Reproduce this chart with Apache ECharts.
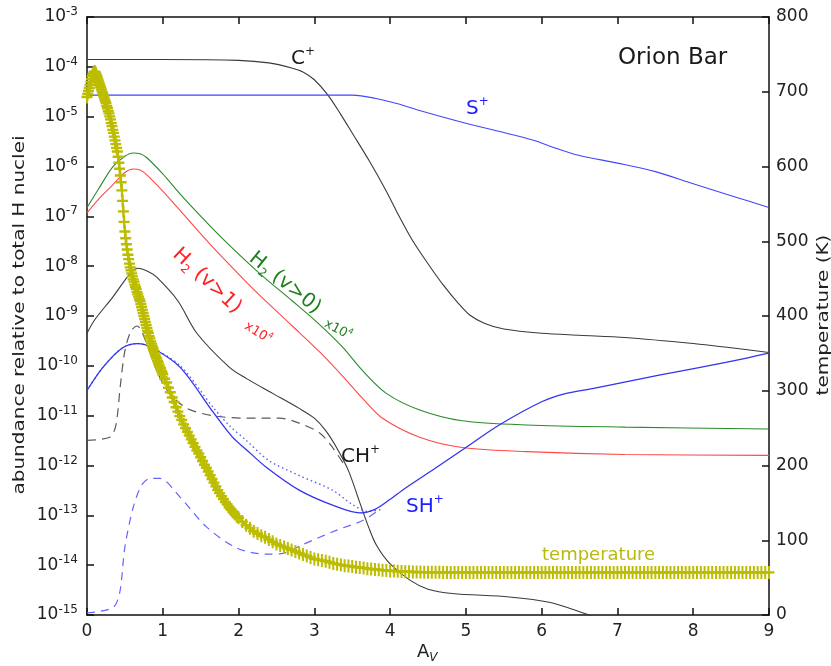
<!DOCTYPE html>
<html><head><meta charset="utf-8">
<script src="https://cdn.jsdelivr.net/npm/echarts/dist/echarts.min.js"></script>
<style>html,body{margin:0;padding:0;background:#fff}#c{width:831px;height:666px}</style>
</head><body><div id="c"></div>
<script>
// ---- data (A_V, abundance relative to total H) ----
const cPlusAv = [0, 1, 2, 2.4, 2.7, 2.85, 3.0, 3.18, 3.35, 3.5, 3.73, 3.95, 4.12, 4.3, 4.5, 4.7, 4.9, 5.05, 5.25, 5.5, 6.0, 6.5, 7.1, 8.0, 8.5, 9.0];
const cPlus = [1.4e-4, 1.4e-4, 1.35e-4, 1.2e-4, 9.5e-5, 7.9e-5, 5.5e-5, 2.7e-5, 1.1e-5, 4.7e-6, 1.26e-6, 3.2e-7, 1.0e-7, 3.2e-8, 1.12e-8, 4.2e-9, 1.8e-9, 1.05e-9, 7.1e-10, 5.5e-10, 4.5e-10, 4.1e-10, 3.7e-10, 2.8e-10, 2.3e-10, 1.85e-10];

const sPlusAv = [0, 3.0, 3.5, 3.8, 4.1, 4.4, 5.0, 5.5, 5.88, 6.2, 6.5, 7.0, 7.5, 8.0, 8.5, 9.0];
const sPlus = [2.7e-5, 2.7e-5, 2.7e-5, 2.35e-5, 1.82e-5, 1.32e-5, 7.4e-6, 4.8e-6, 3.4e-6, 2.3e-6, 1.66e-6, 1.17e-6, 7.9e-7, 4.5e-7, 2.6e-7, 1.5e-7];

const h2v0Av = [0, 0.15, 0.34, 0.5, 0.61, 0.7, 0.79, 1.0, 1.23, 1.49, 1.84, 2.28, 2.71, 3.03, 3.37, 3.64, 3.95, 4.39, 4.95, 5.8, 7.1, 9.0];
const h2v0 = [1.5e-7, 3.5e-7, 9.8e-7, 1.6e-6, 1.86e-6, 1.8e-6, 1.5e-6, 7.1e-7, 2.8e-7, 1.05e-7, 3.0e-8, 7.1e-9, 2.0e-9, 7.6e-10, 2.4e-10, 7.9e-11, 2.8e-11, 1.3e-11, 7.9e-12, 6.5e-12, 5.9e-12, 5.4e-12];

const h2v1Av = [0, 0.15, 0.34, 0.5, 0.61, 0.7, 0.79, 1.0, 1.23, 1.62, 2.08, 2.28, 2.71, 3.07, 3.37, 3.64, 3.9, 4.39, 4.95, 5.8, 7.1, 9.0];
const h2v1 = [1.17e-7, 2.2e-7, 4.3e-7, 7.6e-7, 8.9e-7, 8.5e-7, 6.8e-7, 3.2e-7, 1.3e-7, 2.8e-8, 5.2e-9, 2.6e-9, 6.3e-10, 1.9e-10, 6.3e-11, 2.2e-11, 8.9e-12, 3.7e-12, 2.3e-12, 1.9e-12, 1.66e-12, 1.6e-12];

const chPlusAv = [0, 0.1, 0.34, 0.57, 0.67, 0.8, 0.92, 1.2, 1.45, 1.88, 2.1, 2.45, 2.8, 3.0, 3.15, 3.3, 3.45, 3.6, 3.72, 3.82, 3.99, 4.26, 4.5, 4.82, 5.57, 6.1, 6.59, 7.0];
const chPlus = [4.5e-10, 8.3e-10, 2.4e-9, 7.2e-9, 9.1e-9, 7.9e-9, 6.0e-9, 2.0e-9, 4.5e-10, 9.3e-11, 5.6e-11, 2.8e-11, 1.4e-11, 8.9e-12, 5.0e-12, 2.2e-12, 7.9e-13, 1.8e-13, 5.6e-14, 2.5e-14, 1.1e-14, 5.0e-15, 3.3e-15, 2.7e-15, 2.3e-15, 1.8e-15, 1.05e-15, 6.3e-16];

const chPlusDashAv = [0, 0.3, 0.38, 0.44, 0.5, 0.58, 0.66, 0.8, 0.95, 1.09, 1.32, 1.66, 2.1, 2.54, 2.8, 3.07, 3.24, 3.4];
const chPlusDash = [3.2e-12, 3.7e-12, 6.3e-12, 4.0e-11, 2.0e-10, 5.0e-10, 6.3e-10, 2.5e-10, 6.3e-11, 2.8e-11, 1.4e-11, 1.0e-11, 8.9e-12, 8.9e-12, 7.1e-12, 4.5e-12, 2.3e-12, 1.0e-12];

const shPlusAv = [0, 0.21, 0.47, 0.67, 0.86, 1.23, 1.66, 1.92, 2.1, 2.37, 2.8, 3.24, 3.6, 3.8, 4.0, 4.2, 4.6, 5.0, 5.44, 6.0, 6.3, 6.67, 7.55, 8.43, 9.0];
const shPlus = [3.2e-11, 9.3e-11, 2.3e-10, 2.8e-10, 2.3e-10, 9.3e-11, 1.2e-11, 3.7e-12, 2.1e-12, 9.1e-13, 3.2e-13, 1.6e-13, 1.12e-13, 1.32e-13, 2.1e-13, 3.5e-13, 8.9e-13, 2.3e-12, 6.5e-12, 1.9e-11, 2.75e-11, 3.5e-11, 6.5e-11, 1.17e-10, 1.8e-10];

const shPlusDotAv = [0, 0.21, 0.47, 0.67, 0.86, 1.23, 1.66, 1.88, 2.1, 2.4, 2.8, 3.24, 3.5, 3.7, 3.88];
const shPlusDot = [3.2e-11, 9.3e-11, 2.3e-10, 2.8e-10, 2.3e-10, 1.0e-10, 1.5e-11, 6.3e-12, 3.2e-12, 1.26e-12, 6.3e-13, 3.2e-13, 1.66e-13, 1.2e-13, 1.3e-13];

const shPlusDashAv = [0, 0.34, 0.43, 0.5, 0.61, 0.72, 0.83, 0.96, 1.23, 1.58, 1.98, 2.37, 2.6, 2.85, 3.29, 3.64, 3.85];
const shPlusDash = [1.1e-15, 1.4e-15, 2.7e-15, 2.3e-14, 1.45e-13, 4.0e-13, 5.5e-13, 5.5e-13, 2.3e-13, 5.8e-14, 2.2e-14, 1.66e-14, 1.74e-14, 2.6e-14, 5.0e-14, 7.9e-14, 1.26e-13];

// temperature (K) on the model grid (finer near the cloud edge)
const tempAv = [
 0,0.01,0.02,0.03,0.04,0.05,0.06,0.07,0.08,0.09,0.1,0.11,0.12,0.13,0.14,0.15,0.16,0.17,0.18,0.19,
 0.2,0.21,0.22,0.23,0.24,0.25,0.26,0.27,0.28,0.29,0.3,0.31,0.32,0.33,0.34,0.35,0.36,0.37,0.38,0.39,
 0.4,0.41,0.42,0.43,0.44,0.45,0.46,0.47,0.48,0.49,0.5,0.51,0.52,0.53,0.54,0.55,0.56,0.57,0.58,0.59,
 0.6,0.61,0.62,0.63,0.64,0.65,0.66,0.67,0.68,0.69,0.7,0.71,0.72,0.73,0.74,0.75,0.76,0.77,0.78,0.79,
 0.8,0.81,0.82,0.83,0.84,0.85,0.86,0.87,0.88,0.89,0.9,0.91,0.92,0.93,0.94,0.95,0.96,0.97,0.98,0.99,
 1,1.025,1.05,1.075,1.1,1.125,1.15,1.175,1.2,1.225,1.25,1.275,1.3,1.325,1.35,1.375,1.4,1.425,1.45,1.475,
 1.5,1.525,1.55,1.575,1.6,1.625,1.65,1.675,1.7,1.725,1.75,1.775,1.8,1.825,1.85,1.875,1.9,1.925,1.95,1.975,
 2,2.05,2.1,2.15,2.2,2.25,2.3,2.35,2.4,2.45,2.5,2.55,2.6,2.65,2.7,2.75,2.8,2.85,2.9,2.95,
 3,3.05,3.1,3.15,3.2,3.25,3.3,3.35,3.4,3.45,3.5,3.55,3.6,3.65,3.7,3.75,3.8,3.85,3.9,3.95,
 4,4.05,4.1,4.15,4.2,4.25,4.3,4.35,4.4,4.45,4.5,4.55,4.6,4.65,4.7,4.75,4.8,4.85,4.9,4.95,
 5,5.05,5.1,5.15,5.2,5.25,5.3,5.35,5.4,5.45,5.5,5.55,5.6,5.65,5.7,5.75,5.8,5.85,5.9,5.95,
 6,6.05,6.1,6.15,6.2,6.25,6.3,6.35,6.4,6.45,6.5,6.55,6.6,6.65,6.7,6.75,6.8,6.85,6.9,6.95,
 7,7.05,7.1,7.15,7.2,7.25,7.3,7.35,7.4,7.45,7.5,7.55,7.6,7.65,7.7,7.75,7.8,7.85,7.9,7.95,
 8,8.05,8.1,8.15,8.2,8.25,8.3,8.35,8.4,8.45,8.5,8.55,8.6,8.65,8.7,8.75,8.8,8.85,8.9,8.95,
 9];
const temp = [
 693,697,701,705,709,713,717,721,724,726,727,726,724,721,718,715,712,709,706,703,
 700,697,694,691,688,685,681,678,674,671,667,663,658,654,649,645,640,635,630,625,
 620,613,605,597,588,579,568,554,540,526,513,504,496,489,482,476,470,465,461,457,
 453,449,446,442,439,436,432,429,426,423,420,416,412,408,404,400,396,392,388,384,
 380,377,373,370,366,363,360,357,354,351,348,345,343,340,338,335,332,330,327,325,
 322,316,311,304,298,291,285,278,272,266,261,255,250,245,240,235,230,225,220,216,
 211,206,201,197,192,187,182,177,172,167,163,159,155,151,148,144,141,138,135,132,
 130,125,120,116,112,109,106,104,101,98,95,93,91,89,87,85,83,81,79,77,
 75,74,73,72,70.5,69,68,67,66,65.5,65,64,63.5,63,62,61.5,61,60.5,60,59.5,
 59,58.8,58.5,58.3,58,57.8,57.6,57.5,57.4,57.3,57.2,57.2,57.1,57.1,57,57,57,57,57,57,
 57,57,57,57,57,57,57,57,57,57,57,57,57,57,57,57,57,57,57,57,
 57,57,57,57,57,57,57,57,57,57,57,57,57,57,57,57,57,57,57,57,
 57,57,57,57,57,57,57,57,57,57,57,57,57,57,57,57,57,57,57,57,
 57,57,57,57,57,57,57,57,57,57,57,57,57,57,57,57,57,57,57,57,
 57];

// axis ticks
const xTicks = [0, 9, 1];          // min, max, interval
const yLogRange = [1e-15, 1e-3];   // one tick per decade
const tTicks = [0, 800, 100];

// ---- drawing ----
const FONT = 'DejaVu Sans';
const pairs = (xs, ys) => xs.map((x, i) => [x, ys[i]]);
const chart = echarts.init(document.getElementById('c'), null, {renderer: 'canvas'});

const axLine = {show: true, onZero: false, lineStyle: {color: '#111', width: 1.5}};
const axTick = {show: true, inside: true, length: 7, lineStyle: {color: '#111', width: 1.5}};
const supRich = {
  b: {fontSize: 17, fontFamily: FONT, color: '#222'},
  s: {fontSize: 12, fontFamily: FONT, color: '#222', verticalAlign: 'top'}
};

function line(xs, ys, color, width, type, z) {
  return {
    type: 'line', data: pairs(xs, ys), showSymbol: false, symbol: 'none',
    smooth: 0.3, clip: true, silent: true,
    lineStyle: {color: color, width: width, type: type || 'solid'}, z: z || 2
  };
}

const plusPath = 'path://M0,4.5H11V6.5H0Z M4.5,0H6.5V11H4.5Z';
const TCOL = '#bcbc00';

function label(text, x, y, size, color, rot, extra) {
  return {
    type: 'text', x: x, y: y, rotation: rot || 0, silent: true, z: 50,
    style: Object.assign({
      text: text, fontSize: size, fontFamily: FONT, fill: color,
      align: 'left', verticalAlign: 'middle', lineHeight: Math.round(size * 1.3),
      rich: {
        sup: {fontSize: Math.round(size * 0.62), fontFamily: FONT, fill: color, verticalAlign: 'top'},
        sub: {fontSize: Math.round(size * 0.6), fontFamily: FONT, fill: color, verticalAlign: 'bottom'},
        subi: {fontSize: Math.round(size * 0.66), fontFamily: FONT, fontStyle: 'italic', fill: color, verticalAlign: 'bottom'}
      }
    }, extra || {})
  };
}
const deg = Math.PI / 180;

const option = {
  animation: false,
  backgroundColor: '#fff',
  grid: {left: 87, right: 62, top: 17, bottom: 51, containLabel: false},
  xAxis: [
    {type: 'value', min: xTicks[0], max: xTicks[1], interval: xTicks[2], position: 'bottom',
     axisLine: axLine, axisTick: axTick, splitLine: {show: false},
     axisLabel: {fontSize: 17, fontFamily: FONT, color: '#222', margin: 8, showMinLabel: true, showMaxLabel: true}},
    {type: 'value', min: xTicks[0], max: xTicks[1], interval: xTicks[2], position: 'top',
     axisLine: axLine, axisTick: axTick, splitLine: {show: false}, axisLabel: {show: false}}
  ],
  yAxis: [
    {type: 'log', logBase: 10, min: yLogRange[0], max: yLogRange[1], interval: 1, splitNumber: 12, position: 'left',
     axisLine: axLine, axisTick: axTick, splitLine: {show: false}, minorTick: {show: false},
     axisLabel: {margin: 9, lineHeight: 22, fontSize: 17, fontFamily: FONT, color: '#222',
       formatter: v => '{b|10}{s|' + Math.round(Math.log10(v)) + '}', rich: supRich,
       showMinLabel: true, showMaxLabel: true}},
    {type: 'value', min: tTicks[0], max: tTicks[1], interval: tTicks[2], position: 'right',
     axisLine: axLine, axisTick: axTick, splitLine: {show: false},
     axisLabel: {fontSize: 17, fontFamily: FONT, color: '#222', margin: 7, showMinLabel: true, showMaxLabel: true}}
  ],
  series: [
    line(cPlusAv, cPlus, '#3a3a3a', 1.1),
    line(sPlusAv, sPlus, '#4444ff', 1.1),
    line(h2v0Av, h2v0, '#2a8a2a', 1.1),
    line(h2v1Av, h2v1, '#ff4848', 1.1),
    line(chPlusAv, chPlus, '#3a3a3a', 1.1),
    line(chPlusDashAv, chPlusDash, '#5a5a5a', 1.2, [9, 6]),
    line(shPlusDashAv, shPlusDash, '#6464ff', 1.2, [8, 6]),
    line(shPlusDotAv, shPlusDot, '#5a5aff', 1.4, [1.5, 3]),
    line(shPlusAv, shPlus, '#3333f0', 1.3),
    {
      type: 'line', yAxisIndex: 1, data: pairs(tempAv, temp), silent: true,
      showSymbol: false, symbol: 'none', lineStyle: {color: TCOL, width: 2}, z: 10
    },
    {
      type: 'scatter', yAxisIndex: 1, data: pairs(tempAv, temp), silent: true,
      symbol: plusPath, symbolSize: [11, 13], itemStyle: {color: TCOL, opacity: 1}, z: 11, large: false
    }
  ],
  graphic: [
    label('Orion Bar', 618, 58, 23, '#1a1a1a'),
    label('C{sup|+}', 291, 59, 20, '#1a1a1a'),
    label('S{sup|+}', 466, 109, 20, '#2020ff'),
    label('CH{sup|+}', 341, 457, 20, '#1a1a1a'),
    label('SH{sup|+}', 406, 507, 20, '#2020ff'),
    label('temperature', 542, 555, 18, '#b9b910'),
    label('H{sub|2} (v>1)', 207, 281, 20, '#ff2020', -43 * deg, {align: 'center'}),
    label('x10{sup|4}', 258, 333, 13, '#ff2020', -32 * deg, {align: 'center'}),
    label('H{sub|2} (v>0)', 285, 283, 20, '#1f7f1f', -39 * deg, {align: 'center'}),
    label('x10{sup|4}', 338, 330, 13, '#1f7f1f', -28 * deg, {align: 'center'}),
    label('A{subi|V}', 417, 652, 18, '#222'),
    {type: 'text', x: 20, y: 315, rotation: 90 * deg, scaleX: 1.25, silent: true,
     style: {text: 'abundance relative to total H nuclei', fontSize: 16, fontFamily: FONT, fill: '#222', align: 'center', verticalAlign: 'middle'}},
    {type: 'text', x: 824, y: 315, rotation: 90 * deg, scaleX: 1.25, silent: true,
     style: {text: 'temperature (K)', fontSize: 16, fontFamily: FONT, fill: '#222', align: 'center', verticalAlign: 'middle'}}
  ]
};
chart.setOption(option);
</script>
</body></html>
